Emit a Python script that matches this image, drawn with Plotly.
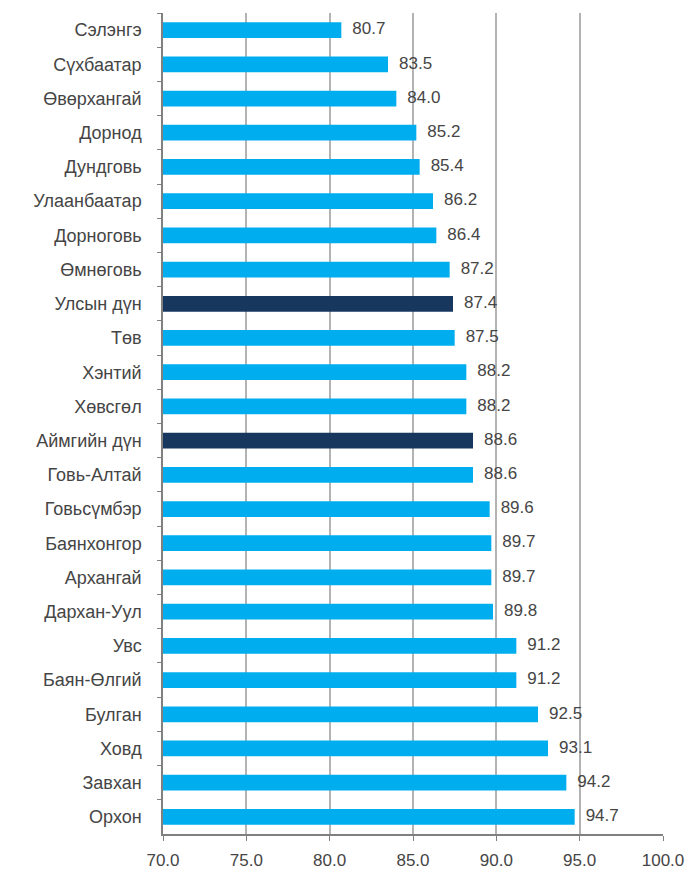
import plotly.graph_objects as go

# Аймгуудын үзүүлэлт (%), дээрээс доош
regions = [
    "Сэлэнгэ", "Сүхбаатар", "Өвөрхангай", "Дорнод", "Дундговь", "Улаанбаатар",
    "Дорноговь", "Өмнөговь", "Улсын дүн", "Төв", "Хэнтий", "Хөвсгөл",
    "Аймгийн дүн", "Говь-Алтай", "Говьсүмбэр", "Баянхонгор", "Архангай",
    "Дархан-Уул", "Увс", "Баян-Өлгий", "Булган", "Ховд", "Завхан", "Орхон",
]
values = [
    80.7, 83.5, 84.0, 85.2, 85.4, 86.2,
    86.4, 87.2, 87.4, 87.5, 88.2, 88.2,
    88.6, 88.6, 89.6, 89.7, 89.7,
    89.8, 91.2, 91.2, 92.5, 93.1, 94.2, 94.7,
]
totals = ["Улсын дүн", "Аймгийн дүн"]
x_ticks = [70, 75, 80, 85, 90, 95, 100]

LIGHT = "#00AEEF"
DARK = "#17375E"
TEXT = "#454545"
colors = [DARK if r in totals else LIGHT for r in regions]

fig = go.Figure()
fig.add_trace(go.Bar(
    y=regions,
    x=values,
    base=0,
    orientation='h',
    width=0.46,
    marker=dict(color=colors, line=dict(width=0)),
    hoverinfo='skip',
))

# Утгын шошго - баганын үзүүрээс бага зэрэг зайтай
fig.add_trace(go.Scatter(
    y=regions,
    x=values,
    mode='markers+text',
    marker=dict(size=16, color='rgba(0,0,0,0)'),
    text=[f"{v:.1f}" for v in values],
    textposition='middle right',
    textfont=dict(size=17, color=TEXT, family='Liberation Sans, Arial'),
    cliponaxis=False,
))

# body-ийн 8px захыг тооцож хэмжээг багасгав
fig.update_layout(
    width=685, height=867,
    margin=dict(l=155, r=30, t=5, b=41),
    paper_bgcolor='white',
    plot_bgcolor='white',
    showlegend=False,
    font=dict(family='Liberation Sans, Arial', color=TEXT),
    xaxis=dict(
        range=[70, 100],
        tickvals=x_ticks,
        ticktext=[f"{t:.1f}" for t in x_ticks],
        tickfont=dict(size=17, color=TEXT),
        showgrid=True, gridcolor='#B3B3B3', gridwidth=1.5,
        showline=True, linecolor='#808080', linewidth=1.5,
        ticks='outside', ticklen=5, tickcolor='#808080',
        ticklabelstandoff=5,
        zeroline=False,
    ),
    yaxis=dict(
        range=[len(regions) - 0.5, -0.5],
        tickfont=dict(size=18, color=TEXT),
        showline=True, linecolor='#808080', linewidth=1.5,
        ticks='outside', ticklen=4, tickcolor='#808080',
        tickson='boundaries',
        ticklabelstandoff=16,
        showgrid=False,
    ),
)

fig.write_html("out.html")
